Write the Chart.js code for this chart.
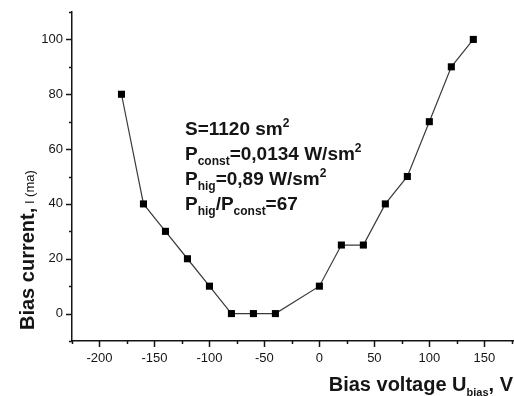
<!DOCTYPE html>
<html><head><meta charset="utf-8">
<script src="https://cdn.jsdelivr.net/npm/chart.js@4/dist/chart.umd.min.js"></script>
<style>html,body{margin:0;padding:0;background:#fff;}#wrap{width:514px;height:396px;}</style>
</head><body><div id="wrap"><canvas id="c" width="514" height="396"></canvas></div>
<script>
const voltage = [-180, -160, -140, -120, -100, -80, -60, -40, 0, 20, 40, 60, 80, 100, 120, 140];
const current = [80, 40, 30, 20, 10, 0, 0, 0, 10, 25, 25, 40, 50, 70, 90, 100];
const xMajorTicks = [-200, -150, -100, -50, 0, 50, 100, 150];
const xMinorTicks = [-225, -175, -125, -75, -25, 25, 75, 125, 175];
const yMajorTicks = [0, 20, 40, 60, 80, 100];
const yMinorTicks = [-10, 10, 30, 50, 70, 90, 110];

const FONT = '"Liberation Sans", Arial, sans-serif';
const INK = '#151515';

function drawRich(ctx, x, y, parts, align) {
  let w = 0;
  parts.forEach(p => { ctx.font = (p.bold ? 'bold ' : '') + p.size + 'px ' + FONT; p.w = ctx.measureText(p.t).width; w += p.w; });
  let cx = align === 'right' ? x - w : x;
  parts.forEach(p => {
    ctx.font = (p.bold ? 'bold ' : '') + p.size + 'px ' + FONT;
    ctx.fillText(p.t, cx, y + (p.dy || 0));
    cx += p.w;
  });
}

const decor = {
  id: 'decor',
  afterDraw(chart) {
    const ctx = chart.ctx;
    const xs = chart.scales.x, ys = chart.scales.y;
    const area = chart.chartArea;
    ctx.save();
    ctx.strokeStyle = INK;
    ctx.lineWidth = 1.5;
    ctx.beginPath();
    xMajorTicks.forEach(v => { const px = Math.round(xs.getPixelForValue(v)) + 0.5; ctx.moveTo(px, area.bottom); ctx.lineTo(px, area.bottom + 6); });
    xMinorTicks.forEach(v => { const px = Math.round(xs.getPixelForValue(v)) + 0.5; ctx.moveTo(px, area.bottom); ctx.lineTo(px, area.bottom + 3); });
    yMajorTicks.forEach(v => { const py = Math.round(ys.getPixelForValue(v)) + 0.5; ctx.moveTo(area.left, py); ctx.lineTo(area.left - 6, py); });
    yMinorTicks.forEach(v => { const py = Math.round(ys.getPixelForValue(v)) + 0.5; ctx.moveTo(area.left, py); ctx.lineTo(area.left - 3, py); });
    ctx.stroke();

    ctx.fillStyle = INK;
    ctx.textBaseline = 'alphabetic';
    // annotation
    const ax = 185;
    drawRich(ctx, ax, 135, [{t:'S=1120 sm', size:19, bold:true}, {t:'2', size:12, bold:true, dy:-8}]);
    drawRich(ctx, ax, 160, [{t:'P', size:19, bold:true}, {t:'const', size:12, bold:true, dy:5}, {t:'=0,0134 W/sm', size:19, bold:true}, {t:'2', size:12, bold:true, dy:-8}]);
    drawRich(ctx, ax, 185, [{t:'P', size:19, bold:true}, {t:'hig', size:12, bold:true, dy:5}, {t:'=0,89 W/sm', size:19, bold:true}, {t:'2', size:12, bold:true, dy:-8}]);
    drawRich(ctx, ax, 210, [{t:'P', size:19, bold:true}, {t:'hig', size:12, bold:true, dy:5}, {t:'/P', size:19, bold:true}, {t:'const', size:12, bold:true, dy:5}, {t:'=67', size:19, bold:true}]);

    // x title
    drawRich(ctx, 513, 391, [{t:'Bias voltage U', size:20, bold:true}, {t:'bias', size:11, bold:true, dy:5}, {t:',', size:20, bold:true}, {t:' V', size:20, bold:true}], 'right');

    // y title
    ctx.translate(34, 330);
    ctx.rotate(-Math.PI / 2);
    drawRich(ctx, 0, 0, [{t:'Bias current,', size:20, bold:true}, {t:' I (ma)', size:13, bold:false}]);
    ctx.restore();
  }
};

new Chart(document.getElementById('c'), {
  type: 'scatter',
  data: {
    datasets: [{
      data: voltage.map((v, i) => ({x: v, y: current[i]})),
      showLine: true,
      borderColor: '#3a3a3a',
      borderWidth: 1.2,
      pointStyle: 'rect',
      pointRadius: 5,
      pointBackgroundColor: '#000',
      pointBorderColor: '#000',
      pointBorderWidth: 0
    }]
  },
  options: {
    responsive: false,
    animation: false,
    devicePixelRatio: 1,
    layout: { autoPadding: false, padding: { top: 12, right: 0, left: 0, bottom: 0 } },
    plugins: { legend: { display: false }, tooltip: { enabled: false } },
    scales: {
      x: {
        type: 'linear', min: -225, max: 177,
        afterBuildTicks: s => { s.ticks = xMajorTicks.map(v => ({value: v})); },
        afterFit: s => { s.height = 55; s.paddingLeft = 0; s.paddingRight = 0; },
        grid: { display: false, drawTicks: false },
        border: { display: true, color: INK, width: 1.5 },
        ticks: { autoSkip: false, maxRotation: 0, padding: 10, color: INK, font: { family: FONT, size: 13 } }
      },
      y: {
        type: 'linear', min: -10, max: 110,
        afterBuildTicks: s => { s.ticks = yMajorTicks.map(v => ({value: v})); },
        afterFit: s => { s.width = 72; s.paddingTop = 0; s.paddingBottom = 0; },
        grid: { display: false, drawTicks: false },
        border: { display: true, color: INK, width: 1.5 },
        ticks: { autoSkip: false, padding: 9, color: INK, font: { family: FONT, size: 13 } }
      }
    }
  },
  plugins: [decor]
});
</script>
</body></html>
